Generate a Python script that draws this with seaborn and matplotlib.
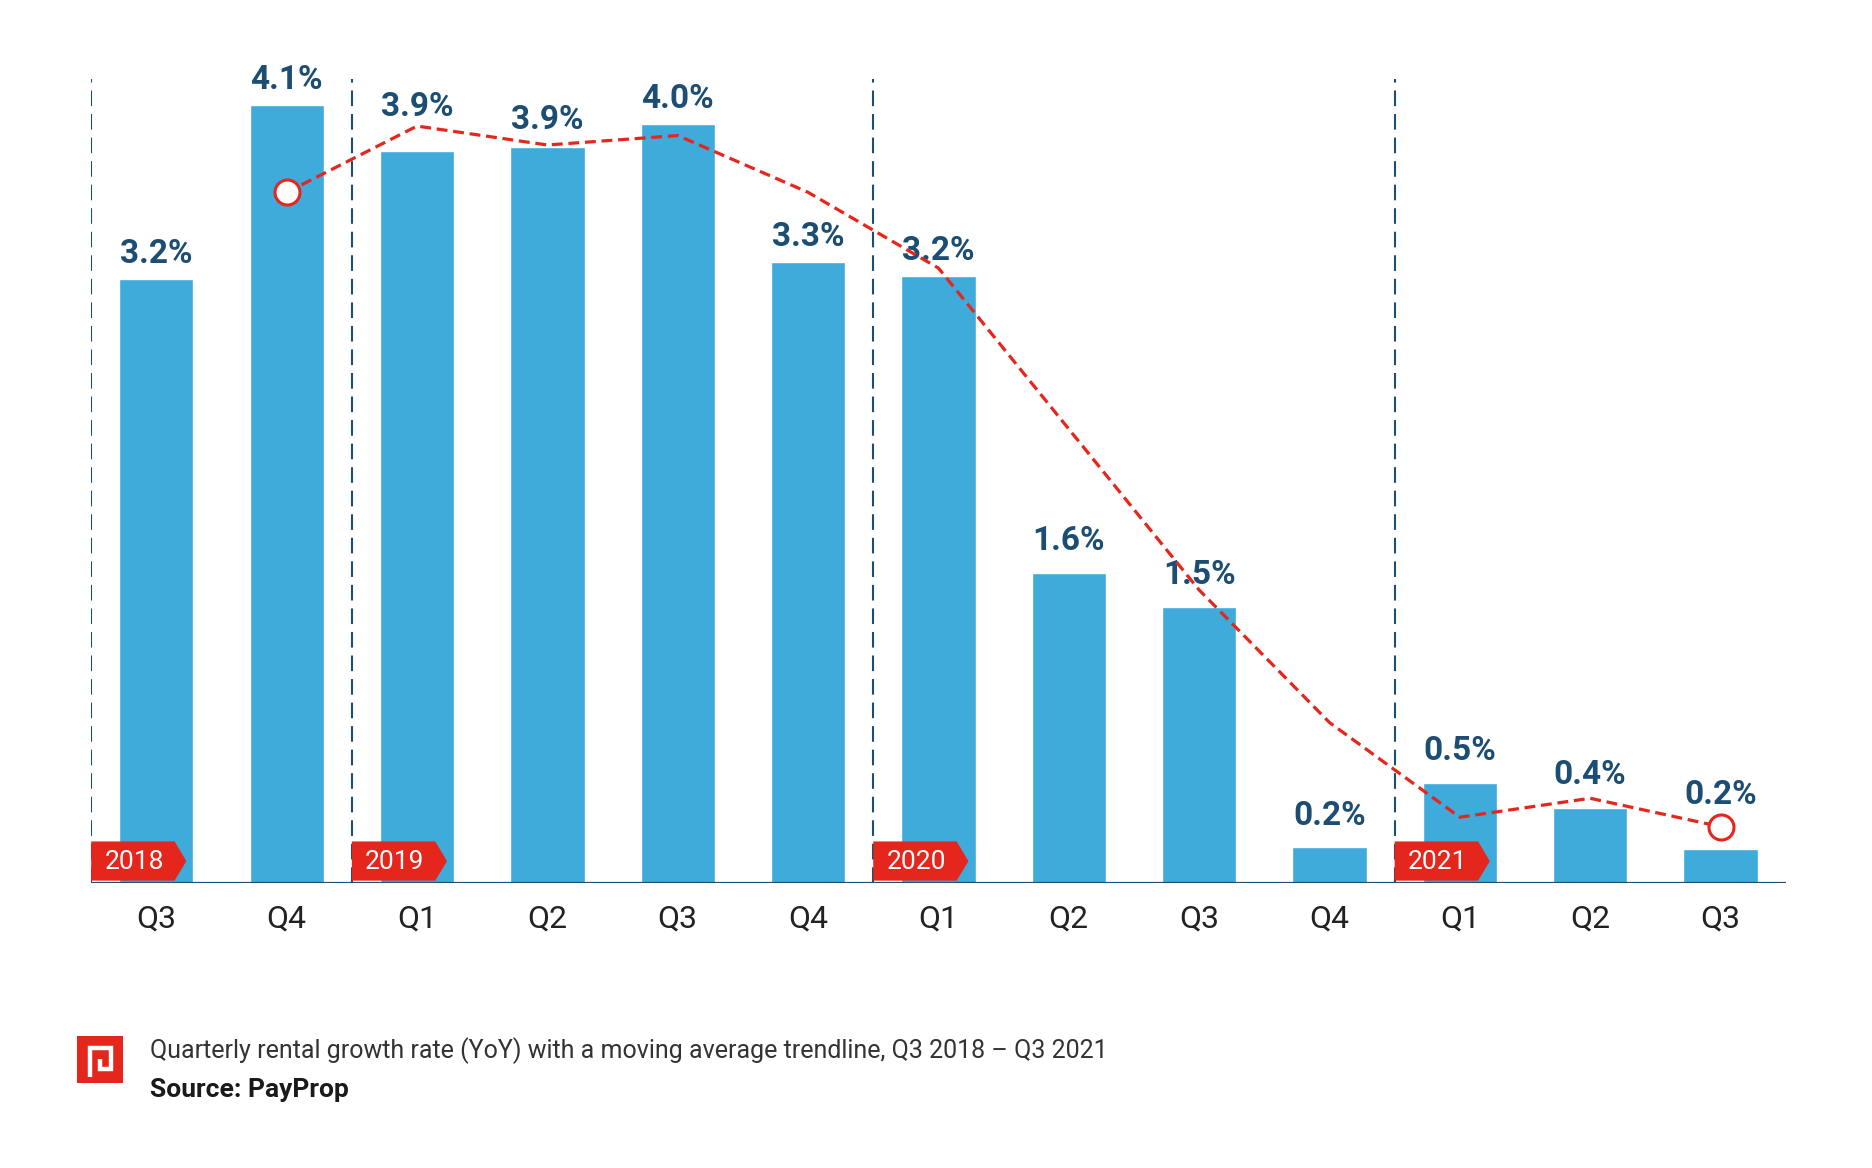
import numpy as np
import pandas as pd
import matplotlib
matplotlib.use("Agg")
import matplotlib.pyplot as plt
from matplotlib.patches import Polygon, Rectangle
import seaborn as sns

# Data
quarters = ["Q3", "Q4", "Q1", "Q2", "Q3", "Q4", "Q1", "Q2", "Q3", "Q4", "Q1", "Q2", "Q3"]
growth = [3.19, 4.11, 3.87, 3.89, 4.01, 3.28, 3.21, 1.64, 1.46, 0.19, 0.53, 0.40, 0.18]
growth_labels = ["3.2%", "4.1%", "3.9%", "3.9%", "4.0%", "3.3%", "3.2%",
                 "1.6%", "1.5%", "0.2%", "0.5%", "0.4%", "0.2%"]
# moving average trendline (starts at Q4 2018)
trend = [3.65, 4.0, 3.9, 3.95, 3.65, 3.25, 2.4, 1.55, 0.85, 0.35, 0.45, 0.3]
years = ["2018", "2019", "2020", "2021"]
year_start_idx = [0, 2, 6, 10]

# styling
BAR_BLUE = "#3eabdb"
NAVY = "#1c4d72"
RED = "#e4261c"
label_lift = [11.5, 11.5, 25, 13, 11.5, 11.5, 11.5, 16.5, 16.5, 16.5, 17, 17, 33]

sns.set_style("white")
plt.rcParams["font.family"] = ["Roboto", "DejaVu Sans"]

fig = plt.figure(figsize=(18.72, 11.68), dpi=100)
ax = fig.add_axes([0.0487, 0.2436, 0.9052, 0.689])

df = pd.DataFrame({"pos": np.arange(len(growth)), "growth": growth})
sns.barplot(data=df, x="pos", y="growth", color=BAR_BLUE, saturation=1,
            width=0.57, ax=ax, zorder=2)

# year separators
for i in year_start_idx:
    ax.plot([i - 0.5, i - 0.5], [0, 4.25], color=NAVY, lw=1.5,
            dashes=(7.5, 3.8), zorder=1)

# baseline
ax.plot([-0.5, len(growth) - 0.5], [0, 0], color=NAVY, lw=2.3, zorder=4,
        solid_capstyle="butt")

# trendline
tx = np.arange(1, len(growth))
sns.lineplot(x=tx, y=trend, ax=ax, color=RED, lw=2.3, zorder=5)
ax.lines[-1].set_dashes((3.4, 1.8))
ax.plot([tx[0], tx[-1]], [trend[0], trend[-1]], ls="none", marker="o",
        ms=18, mfc="white", mec=RED, mew=2.2, zorder=6)

# value labels
for i, (v, lab) in enumerate(zip(growth, growth_labels)):
    ax.annotate(lab, (i, v), xytext=(0, label_lift[i]), textcoords="offset points",
                ha="center", va="baseline", fontsize=24, fontweight="bold",
                color=NAVY, annotation_clip=False)

# year flags
for yr, i in zip(years, year_start_idx):
    x0 = i - 0.5
    flag = Polygon([(x0, 0.015), (x0 + 0.64, 0.015), (x0 + 0.73, 0.118),
                    (x0 + 0.64, 0.222), (x0, 0.222)], closed=True,
                   facecolor=RED, edgecolor="none", zorder=7)
    ax.add_patch(flag)
    ax.text(x0 + 0.33, 0.112, yr, ha="center", va="center", color="white",
            fontsize=19, zorder=8)

ax.set_xlim(-0.5, len(growth) - 0.5)
ax.set_ylim(0, 4.25)
ax.set_xticks(range(len(quarters)))
ax.set_xticklabels(quarters, fontsize=23, color="#222222")
ax.tick_params(axis="x", length=0, pad=15)
ax.set_yticks([])
ax.set_xlabel("")
ax.set_ylabel("")
sns.despine(ax=ax, left=True, bottom=True)

# logo
lax = fig.add_axes([0.041, 0.0728, 0.0246, 0.0402])
lax.add_patch(Rectangle((0, 0), 1, 1, facecolor=RED, edgecolor="none"))
lax.plot([0.28, 0.28, 0.74, 0.74, 0.5, 0.5], [0.12, 0.74, 0.74, 0.3, 0.3, 0.52],
         color="white", lw=3.2, solid_capstyle="butt", solid_joinstyle="miter")
lax.set_xlim(0, 1)
lax.set_ylim(0, 1)
lax.axis("off")

# caption
fig.text(0.080, 0.094, "Quarterly rental growth rate (YoY) with a moving average trendline, Q3 2018 \u2013 Q3 2021",
         fontsize=18, color="#333333", ha="left", va="baseline")
fig.text(0.080, 0.0605, "Source: PayProp", fontsize=19, fontweight="bold",
         color="#1a1a1a", ha="left", va="baseline")

fig.savefig("out.png", dpi=100, facecolor="white")
